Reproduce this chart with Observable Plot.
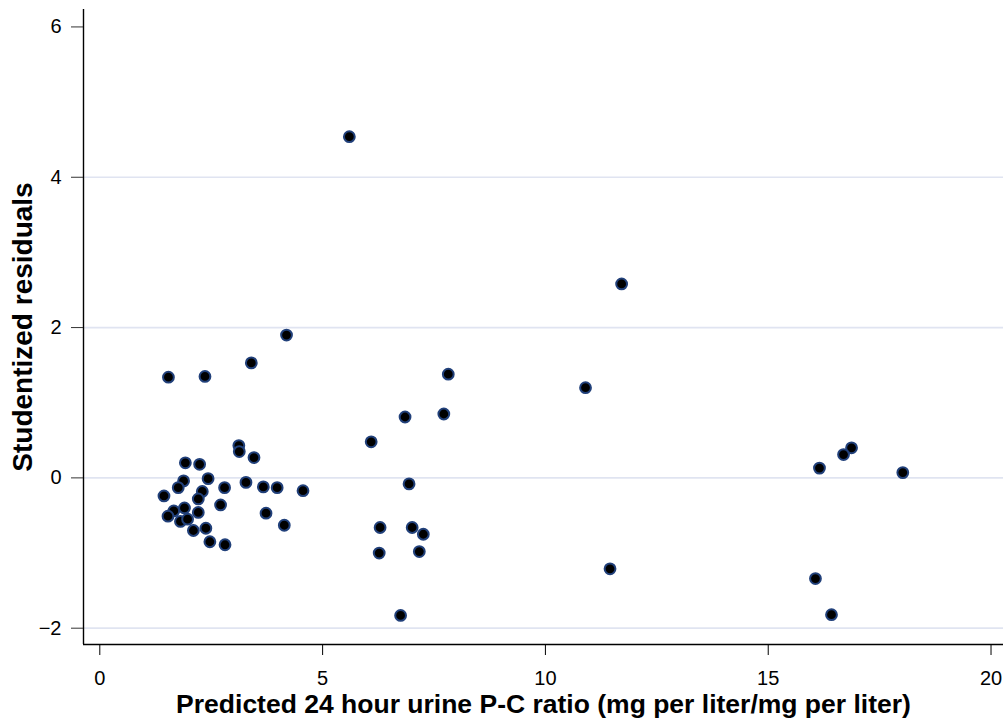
<!DOCTYPE html>
<html>
<head>
<meta charset="utf-8">
<script src="https://cdn.jsdelivr.net/npm/d3@7"></script>
<script src="https://cdn.jsdelivr.net/npm/@observablehq/plot@0.6"></script>
<style>
  html, body { margin: 0; padding: 0; background: #ffffff; }
  #chart svg { display: block; }
</style>
</head>
<body>
<div id="chart"></div>
<script>
// Predicted 24 hour urine P-C ratio (x) and studentized residuals (y)
const predicted = [
  4.19, 3.40, 1.54, 2.36, 3.12, 3.13, 3.46, 1.92, 2.24, 1.88,
  2.43, 1.76, 3.28, 2.80, 3.67, 3.98, 4.56, 1.44, 2.30, 2.21,
  2.71, 1.66, 1.90, 2.21, 1.53, 1.81, 1.97, 3.73, 2.10, 2.38,
  4.14, 2.47, 2.81,
  5.60, 7.82, 7.72, 6.85,
  11.71, 10.90, 11.45,
  6.09, 6.94, 6.29, 7.01, 7.26, 6.27, 7.17, 6.75,
  16.87, 16.69, 16.15, 18.02, 16.06, 16.42
];
const residuals = [
  1.90, 1.53, 1.34, 1.35, 0.43, 0.35, 0.27, 0.20, 0.18, -0.04,
  -0.01, -0.13, -0.06, -0.13, -0.12, -0.13, -0.17, -0.24, -0.18, -0.28,
  -0.36, -0.44, -0.40, -0.46, -0.51, -0.58, -0.55, -0.47, -0.70, -0.67,
  -0.63, -0.85, -0.89,
  4.54, 1.38, 0.85, 0.81,
  2.58, 1.20, -1.21,
  0.48, -0.08, -0.66, -0.66, -0.75, -1.00, -0.98, -1.83,
  0.40, 0.31, 0.13, 0.07, -1.34, -1.82
];

const xTicks = [0, 5, 10, 15, 20];
const yTicks = [-2, 0, 2, 4, 6];
const gridY = [-2, 0, 2, 4];
const xDomain = [-0.366, 20.28];
const yDomain = [-2.217, 6.232];
const xTitle = "Predicted 24 hour urine P-C ratio (mg per liter/mg per liter)";
const yTitle = "Studentized residuals";

const points = predicted.map((x, i) => ({x, y: residuals[i]}));

const chart = Plot.plot({
  width: 1003,
  height: 727,
  marginLeft: 83,
  marginRight: 0,
  marginTop: 9,
  marginBottom: 83,
  style: {fontFamily: "'Liberation Sans', Arial, sans-serif", background: "#ffffff", color: "#000"},
  x: {domain: xDomain},
  y: {domain: yDomain},
  marks: [
    Plot.ruleY(gridY, {stroke: "#e0e4f1", strokeWidth: 1.7}),
    Plot.ruleX([xDomain[0]], {stroke: "#000", strokeWidth: 1.4}),
    Plot.ruleY([yDomain[0]], {stroke: "#000", strokeWidth: 1.4}),
    Plot.axisY({ticks: yTicks, tickSize: 12, tickPadding: 10, fontSize: 20, stroke: "#333", fill: "#000", tickFormat: d => d3.format("")(d).replace("-", "\u2212"), label: null}),
    Plot.axisX({ticks: xTicks, tickSize: 11, tickPadding: 15, fontSize: 20, stroke: "#000", fill: "#000", label: null}),
    Plot.dot(points, {x: "x", y: "y", r: 5.4, fill: "#000", stroke: "#21407a", strokeWidth: 2}),
    Plot.text([xTitle], {frameAnchor: "bottom", textAnchor: "middle", dy: 68, fontSize: 26.5, fontWeight: "bold", fill: "#000"}),
    Plot.text([yTitle], {frameAnchor: "left", textAnchor: "middle", rotate: -90, dx: -60.5, dy: 0, fontSize: 28, fontWeight: "bold", fill: "#000"})
  ]
});
document.getElementById("chart").appendChild(chart);
</script>
</body>
</html>
